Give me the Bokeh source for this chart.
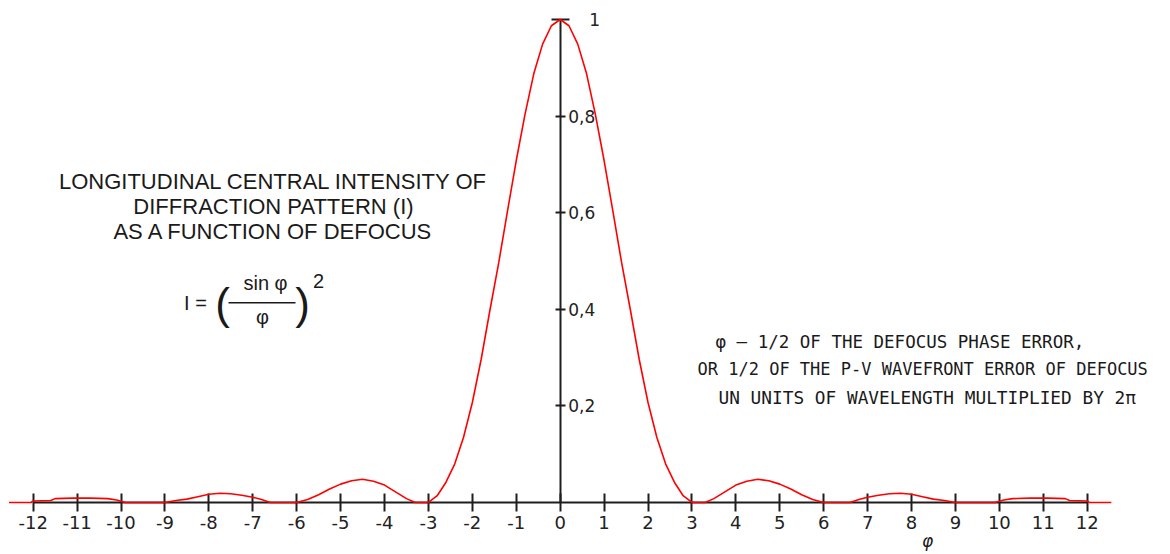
from bokeh.plotting import figure
from bokeh.models import LinearAxis, FixedTicker, Range1d, Label, BoxAnnotation
from bokeh.embed import file_html
from bokeh.resources import INLINE

# ---- data (right half, phi >= 0; the curve is mirrored) ----
main_x = [0.0, 0.2, 0.4, 0.6, 0.8, 1.0, 1.2, 1.4, 1.6, 1.8, 2.0, 2.2, 2.4, 2.6, 2.8, 3.0]
main_y = [1.000, 0.987, 0.949, 0.888, 0.804, 0.708, 0.603, 0.496, 0.398, 0.296,
          0.207, 0.135, 0.080, 0.042, 0.014, 0.000]
lobe2_x = [3.3, 3.5, 3.75, 4.0, 4.25, 4.5, 4.75, 5.0, 5.25, 5.5, 5.75, 6.0]
lobe2_y = [0.000, 0.008, 0.022, 0.036, 0.044, 0.048, 0.045, 0.038, 0.028, 0.016, 0.006, 0.000]
lobe3_x = [6.6, 6.8, 7.0, 7.25, 7.5, 7.75, 8.0, 8.25, 8.5, 8.75, 9.0]
lobe3_y = [0.000, 0.006, 0.011, 0.015, 0.018, 0.019, 0.017, 0.012, 0.007, 0.004, 0.000]
lobe4_x = [9.9, 10.1, 10.3, 10.7, 11.1, 11.5, 11.6, 12.0, 12.05]
lobe4_y = [0.000, 0.005, 0.008, 0.009, 0.009, 0.008, 0.004, 0.003, 0.000]
tail_x = [12.55]
tail_y = [0.000]

x_ticks = [-12, -11, -10, -9, -8, -7, -6, -5, -4, -3, -2, -1, 0, 1, 2, 3, 4, 5, 6, 7, 8, 9, 10, 11, 12]
x_tick_labels = [str(v) for v in x_ticks]
y_ticks = [0.2, 0.4, 0.6, 0.8]
y_tick_labels = ["0,2", "0,4", "0,6", "0,8"]
y_top_tick = [1.0]
y_top_label = ["1"]

title_lines = ["LONGITUDINAL CENTRAL INTENSITY OF", "DIFFRACTION PATTERN (I)", "AS A FUNCTION OF DEFOCUS"]
note_lines = ["φ — 1/2 OF THE DEFOCUS PHASE ERROR,",
              "OR 1/2 OF THE P-V WAVEFRONT ERROR OF DEFOCUS",
              "UN UNITS OF WAVELENGTH MULTIPLIED BY 2π"]

right_x = main_x + lobe2_x + lobe3_x + lobe4_x + tail_x
right_y = main_y + lobe2_y + lobe3_y + lobe4_y + tail_y
curve_x = [-v for v in reversed(right_x)] + right_x[1:]
curve_y = list(reversed(right_y)) + right_y[1:]

W, H = 1170, 554
p = figure(width=W, height=H, output_backend="svg", toolbar_location=None,
           x_axis_location=None, y_axis_location=None,
           x_range=Range1d(-12.744, 13.897), y_range=Range1d(-0.1077, 1.0393),
           min_border=0, min_border_left=0, min_border_right=0,
           min_border_top=0, min_border_bottom=0)
p.outline_line_color = None
p.xgrid.visible = False
p.ygrid.visible = False
p.background_fill_color = "white"
p.border_fill_color = "white"

AX = "#1e1e1e"
xaxis = LinearAxis(fixed_location=0, ticker=FixedTicker(ticks=x_ticks),
                   major_label_overrides=dict(zip(x_ticks, x_tick_labels)),
                   axis_line_color=AX, axis_line_width=2, bounds=(-12, 12),
                   major_tick_in=9, major_tick_out=9, major_tick_line_color=AX,
                   major_tick_line_width=2, minor_tick_line_color=None,
                   major_label_text_font="DejaVu Sans", major_label_text_font_size="18px",
                   major_label_text_color="#222222", major_label_standoff=5)
p.add_layout(xaxis, "below")

yaxis = LinearAxis(fixed_location=0, ticker=FixedTicker(ticks=y_ticks),
                   major_label_overrides=dict(zip(y_ticks, y_tick_labels)),
                   axis_line_color=AX, axis_line_width=2, bounds=(0, 1),
                   major_tick_in=5, major_tick_out=5, major_tick_line_color=AX,
                   major_tick_line_width=2, minor_tick_line_color=None,
                   major_label_text_font="DejaVu Sans", major_label_text_font_size="17px",
                   major_label_text_color="#222222", major_label_standoff=3)
p.add_layout(yaxis, "right")

ytop = LinearAxis(fixed_location=0, ticker=FixedTicker(ticks=y_top_tick),
                  major_label_overrides=dict(zip(y_top_tick, y_top_label)),
                  axis_line_color=None,
                  major_tick_in=9, major_tick_out=9, major_tick_line_color=AX,
                  major_tick_line_width=2, minor_tick_line_color=None,
                  major_label_text_font="DejaVu Sans", major_label_text_font_size="17px",
                  major_label_text_color="#222222", major_label_standoff=20)
p.add_layout(ytop, "right")

p.line(curve_x, curve_y, line_color="#ff0000", line_width=1.6, level="overlay")

def sx(px):
    return px

def sy(py):
    return H - py

TXT = "#1a1a1a"
for line, py in zip(title_lines, [181, 206, 231]):
    p.add_layout(Label(x=sx(273), y=sy(py), x_units="screen", y_units="screen", text=line,
                       text_font="Liberation Sans", text_font_size="22px", text_color=TXT,
                       text_align="center", text_baseline="middle"))

# formula I = (sin φ / φ)^2
p.add_layout(Label(x=sx(195), y=sy(302), x_units="screen", y_units="screen", text="I =",
                   text_font="Liberation Sans", text_font_size="20px", text_color=TXT,
                   text_align="center", text_baseline="middle"))
for ch, px in [("(", 222), (")", 302)]:
    p.add_layout(Label(x=sx(px), y=sy(303), x_units="screen", y_units="screen", text=ch,
                       text_font="DejaVu Sans ExtraLight, Liberation Sans", text_font_size="44px",
                       text_color=TXT, text_align="center", text_baseline="middle"))
p.add_layout(Label(x=sx(265), y=sy(282), x_units="screen", y_units="screen", text="sin φ",
                   text_font="Liberation Sans", text_font_size="20px", text_color=TXT,
                   text_align="center", text_baseline="middle"))
p.add_layout(Label(x=sx(262), y=sy(316), x_units="screen", y_units="screen", text="φ",
                   text_font="Liberation Sans", text_font_size="20px", text_color=TXT,
                   text_align="center", text_baseline="middle"))
p.add_layout(Label(x=sx(318), y=sy(280), x_units="screen", y_units="screen", text="2",
                   text_font="Liberation Sans", text_font_size="20px", text_color=TXT,
                   text_align="center", text_baseline="middle"))
p.add_layout(BoxAnnotation(left=sx(228), right=sx(295), bottom=sy(303), top=sy(301.5),
                           left_units="screen", right_units="screen",
                           bottom_units="screen", top_units="screen",
                           fill_color=TXT, fill_alpha=1.0, line_color=None))

for line, px, py, fs in zip(note_lines, [715, 697, 718], [341, 368, 397], ["17.5px", "17px", "17.8px"]):
    p.add_layout(Label(x=sx(px), y=sy(py), x_units="screen", y_units="screen", text=line,
                       text_font="DejaVu Sans Mono", text_font_size=fs, text_color=TXT,
                       text_align="left", text_baseline="middle"))

p.add_layout(Label(x=sx(927), y=sy(540), x_units="screen", y_units="screen", text="φ",
                   text_font="DejaVu Sans", text_font_size="17px", text_font_style="italic",
                   text_color=TXT, text_align="center", text_baseline="middle"))

open("out.html", "w").write(file_html(p, INLINE))
